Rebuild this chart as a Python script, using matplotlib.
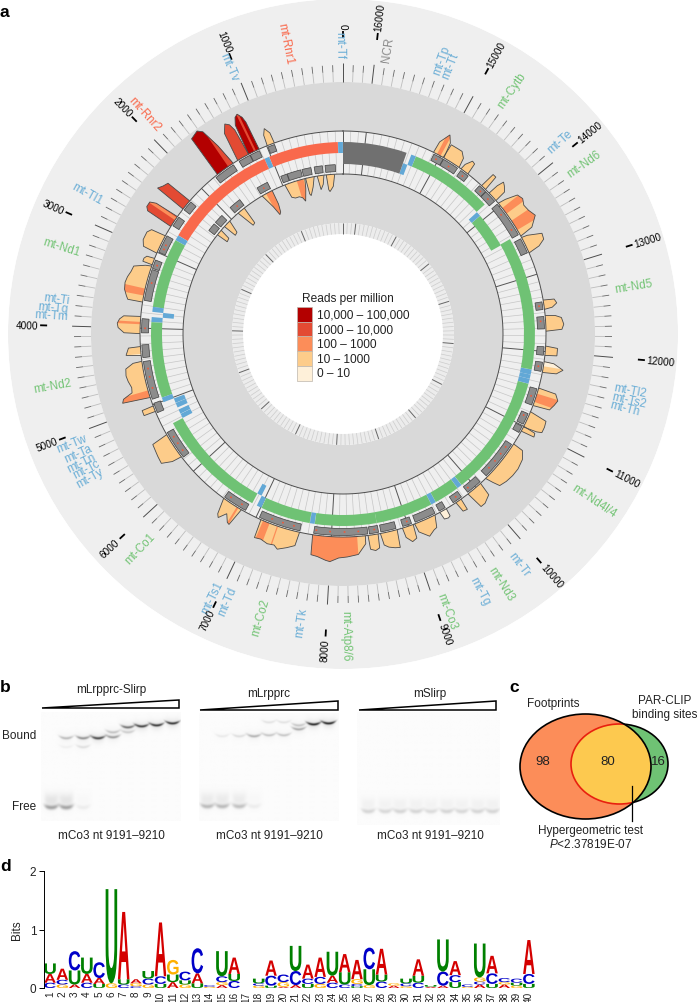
import numpy as np
import matplotlib
matplotlib.use('Agg')
import matplotlib.pyplot as plt
from matplotlib.patches import Ellipse, PathPatch, Polygon, Rectangle
from matplotlib.textpath import TextPath
from matplotlib.font_manager import FontProperties
from matplotlib.transforms import Affine2D

plt.rcParams['font.family'] = ['Liberation Sans', 'DejaVu Sans']
plt.rcParams['mathtext.fontset'] = 'custom'
plt.rcParams['mathtext.rm'] = 'Liberation Sans'
plt.rcParams['mathtext.it'] = 'Liberation Sans:italic'

W, H = 697, 1003
GENOME = 16299

# panel a: genes
gene_names = ['mt-Tf', 'mt-Rnr1', 'mt-Tv', 'mt-Rnr2', 'mt-Tl1', 'mt-Nd1', 'mt-Ti', 'mt-Tq', 'mt-Tm', 'mt-Nd2',
              'mt-Tw', 'mt-Ta', 'mt-Tn', 'mt-Tc', 'mt-Ty', 'mt-Co1', 'mt-Ts1', 'mt-Td', 'mt-Co2', 'mt-Tk',
              'mt-Atp8/6', 'mt-Co3', 'mt-Tg', 'mt-Nd3', 'mt-Tr', 'mt-Nd4l/4', 'mt-Th', 'mt-Ts2', 'mt-Tl2',
              'mt-Nd5', 'mt-Nd6', 'mt-Te', 'mt-Cytb', 'mt-Tt', 'mt-Tp', 'NCR']
gene_start = [1, 70, 1025, 1094, 2676, 2751, 3706, 3772, 3845, 3914, 4951, 5019, 5089, 5192, 5260, 5328, 6870,
              6942, 7013, 7700, 7766, 8607, 9391, 9459, 9808, 9877, 11545, 11613, 11671, 11742, 13552, 14071,
              14145, 15289, 15356, 15423]
gene_end = [68, 1024, 1093, 2675, 2750, 3707, 3774, 3842, 3913, 4951, 5017, 5086, 5159, 5257, 5326, 6872, 6938,
            7009, 7696, 7764, 8607, 9390, 9458, 9806, 9875, 11544, 11612, 11671, 11741, 13565, 14070, 14139,
            15288, 15355, 15422, 16299]
gene_kind = ['t', 'r', 't', 'r', 't', 'p', 't', 't', 't', 'p', 't', 't', 't', 't', 't', 'p', 't', 't', 'p', 't',
             'p', 'p', 't', 'p', 't', 'p', 't', 't', 't', 'p', 'p', 't', 'p', 't', 't', 'n']
gene_strand = ['H', 'H', 'H', 'H', 'H', 'H', 'H', 'L', 'H', 'H', 'H', 'L', 'L', 'L', 'L', 'H', 'L', 'H', 'H', 'H',
               'H', 'H', 'H', 'H', 'H', 'H', 'H', 'H', 'H', 'H', 'L', 'L', 'H', 'H', 'L', 'B']
label_pos = [35, 507, 1050, 1900, 2770, 3296, 3753, 3835, 3908, 4535, 5067, 5170, 5262, 5330, 5415, 6180, 6950,
             7090, 7416, 7775, 8170, 9078, 9420, 9617, 9840, 10700, 11560, 11636, 11723, 12650, 13820, 14110,
             14730, 15317, 15403, 15892]
number_ticks = list(range(0, 17000, 1000))

# footprints on the outer strand: position, coverage, level of the main colour
outer_pos = [[895, 905, 950, 985, 992], [1105, 1115, 1130, 1165, 1200, 1235, 1255], [1255, 1265, 1290, 1330, 1385, 1415],
             [1486, 1522, 1572, 1617, 1712, 1730], [2220, 2230, 2290, 2345, 2355], [2475, 2490, 2520, 2580, 2615, 2627],
             [2765, 2780, 2830, 2900, 2930, 3000, 3012], [3085, 3095, 3130, 3170, 3172],
             [3190, 3205, 3260, 3330, 3400, 3470, 3550, 3620, 3660, 3665], [3850, 3860, 3900, 3950, 4000, 4060, 4070],
             [4235, 4245, 4330, 4350], [4425, 4435, 4490, 4570, 4640, 4720, 4780, 4825, 4865, 4900],
             [5015, 5020, 5085, 5090], [5420, 5440, 5520, 5590, 5680, 5740, 5760], [6520, 6570, 6600, 6660, 6720, 6750, 6790],
             [7070, 7085, 7160, 7250, 7330, 7380, 7480, 7570, 7590], [7760, 7775, 7850, 7950, 8000, 8100, 8200, 8330, 8430, 8435],
             [8470, 8480, 8540, 8590, 8600], [8630, 8650, 8700, 8770, 8830, 8850], [8920, 8930, 8990, 9050, 9065],
             [9085, 9100, 9200, 9280, 9320, 9370], [9440, 9450, 9500, 9530, 9535], [9680, 9695, 9750, 9760],
             [9870, 9900, 9960, 10060, 10080], [10170, 10200, 10230, 10320, 10420, 10520, 10640, 10730, 10740],
             [10930, 10940, 10985, 11000], [10990, 11010, 11030, 11100, 11170, 11205], [11290, 11310, 11380, 11440, 11510, 11525],
             [11730, 11745, 11800, 11860, 11870], [11950, 11960, 12050, 12070], [12260, 12280, 12340, 12420, 12450, 12460],
             [12540, 12555, 12600, 12650, 12660], [13290, 13320, 13370, 13440, 13500, 13510],
             [13530, 13560, 13660, 13750, 13830, 13900, 13970, 14020, 14040], [14085, 14095, 14150, 14190, 14210, 14215],
             [14280, 14295, 14340, 14350], [14580, 14590, 14630, 14680, 14690], [14720, 14740, 14800, 14860, 14950, 14960],
             [14950, 14970, 15020, 15090, 15100]]
outer_cov = [[0, 11, 17, 11, 0], [0, 30, 36, 41, 39, 32, 0], [0, 28, 35, 38, 30, 0],
             [2, 23, 43, 47, 44, 0], [0, 28, 30, 33, 0], [0, 25, 31, 31, 28, 0],
             [0, 15, 18, 18, 18, 15, 0], [0, 8, 10, 10, 0],
             [0, 6, 17, 18, 20, 21, 20, 17, 15, 0], [0, 17, 21, 23, 22, 16, 0],
             [0, 12, 15, 0], [0, 9, 17, 18, 17, 15, 16, 26, 28, 0],
             [0, 12, 12, 0], [0, 17, 18, 19, 20, 10, 0], [0, 16, 19, 11, 18, 19, 0],
             [0, 19, 18, 20, 19, 22, 18, 14, 0], [0, 20, 21, 24, 25, 21, 20, 18, 8, 0],
             [0, 14, 16, 14, 0], [0, 12, 15, 17, 18, 0], [0, 10, 16, 14, 0],
             [0, 9, 17, 13, 12, 0], [0, 8, 9, 8, 0], [0, 11, 12, 0],
             [0, 18, 18, 14, 0], [0, 8, 15, 17, 18, 18, 16, 11, 0],
             [0, 14, 13, 0], [0, 14, 19, 19, 18, 0], [0, 17, 20, 22, 18, 0],
             [0, 14, 20, 10, 0], [0, 12, 12, 0], [0, 16, 18, 16, 10, 0],
             [0, 8, 13, 11, 0], [0, 12, 19, 20, 6, 0],
             [0, 14, 23, 20, 19, 22, 20, 8, 0], [0, 12, 16, 18, 11, 0],
             [0, 16, 16, 0], [0, 12, 13, 6, 0], [0, 10, 15, 15, 15, 0],
             [0, 16, 23, 12, 0]]
outer_level = [3, 0, 1, 0, 1, 1, 3, 3, 3, 3, 3, 3, 3, 3, 3, 3, 2, 3, 3, 3, 3, 4, 3, 3, 3, 3, 3, 3, 3, 3, 3, 3, 3, 3, 3, 3, 3, 3, 3]

# stretches of a footprint that fall in another read class
outer_band_start = [1150, 1486, 2490, 3490, 3920, 4330, 4805, 6720, 7100, 7290, 8330, 11340, 11810, 13620, 13870, 15000]
outer_band_end = [1175, 1560, 2530, 3580, 3950, 4350, 4895, 6745, 7190, 7305, 8435, 11450, 11870, 13760, 13960, 15050]
outer_band_level = [1, 1, 2, 2, 2, 4, 2, 2, 2, 2, 3, 2, 4, 2, 2, 2]

inner_pos = [[135, 170, 235, 255, 272], [310, 340, 390, 420], [470, 520, 585, 605, 612],
             [625, 650, 710, 745, 770, 800, 870, 930, 965], [1190, 1195, 1225, 1260, 1300, 1375],
             [1725, 1740, 1790, 1855], [2040, 2090, 2150, 2165], [2245, 2265, 2330, 2340]]
inner_cov = [[0, 12, 17, 15, 0], [0, 9, 14, 0], [0, 10, 18, 16, 0],
             [0, 10, 22, 18, 17, 16, 16, 14, 0], [0, 15, 23, 25, 15, 0],
             [0, 18, 19, 0], [0, 13, 14, 0], [0, 11, 12, 0]]
inner_level = [3, 3, 3, 3, 2, 3, 3, 3]
inner_band_start = [650, 1300]
inner_band_end = [760, 1375]
inner_band_level = [2, 3]

outer_box_start = [900, 1110, 1245, 1490, 2220, 2470, 2755, 3100, 3230, 3877, 4215, 4430, 4985, 5400, 6520, 7040,
                   7770, 8490, 8640, 8930, 9100, 9440, 9650, 9880, 10200, 10900, 11020, 11290, 11740, 11950, 12290,
                   12540, 13300, 13560, 14090, 14260, 14560, 14730, 14950]
outer_box_end = [990, 1240, 1405, 1770, 2355, 2605, 2990, 3215, 3640, 4060, 4380, 4930, 5115, 5780, 6840, 7590,
                 8470, 8610, 8840, 9050, 9380, 9530, 9780, 10090, 10720, 10990, 11170, 11510, 11860, 12060, 12450,
                 12640, 13500, 14040, 14255, 14370, 14680, 14945, 15085]
inner_box_start = [118, 317, 495, 655, 875, 1200, 1700, 2065, 2240]
inner_box_end = [276, 444, 635, 870, 975, 1380, 1890, 2210, 2370]
outer_dash = [2870, 2930, 3160, 3400, 4000, 4530, 4640, 4790, 5490, 5590, 5700, 6590, 6760, 7200, 7350, 7500, 7800,
              7980, 8170, 8350, 8560, 9000, 9720, 9920, 10300, 10420, 10540, 10650, 11130, 11400, 11800, 12390,
              12590, 13660, 13900, 14170, 14310, 14620, 14840, 15030]
inner_dash = [1290, 1793]

legend_title = 'Reads per million'
legend_labels = ['10,000 – 100,000', '1000 – 10,000', '100 – 1000', '10 – 1000', '0 – 10']
level_colors = ['#b30000', '#e34a33', '#fc8d59', '#fdcc8a', '#fef0d9']
kind_fill = {'t': '#62a8d6', 'r': '#f9694c', 'p': '#6fc274', 'n': '#707070'}
kind_text = {'t': '#6baed6', 'r': '#f9694c', 'p': '#74c476', 'n': '#8a8a8a'}

# panel b: gel lanes and how strong each band looks
gel_titles = ['mLrpprc-Slirp', 'mLrpprc', 'mSlirp']
gel_lane_x = [[51, 66, 83, 98, 113, 128, 142, 157, 173],
              [207, 222, 239, 254, 269, 284, 299, 314, 329],
              [368, 385, 400, 416, 431, 447, 462, 478, 493]]
gel_free = [[0.3, 0.3, 0.05, 0, 0, 0, 0, 0, 0],
            [0.22, 0.22, 0.2, 0.05, 0, 0, 0, 0, 0],
            [0.13, 0.12, 0.13, 0.13, 0.11, 0.13, 0.12, 0.13, 0.13]]
gel_free_y = [809, 808, 813]
gel_band_lane = [[1, 2, 3, 4, 4, 5, 5, 6, 7, 8, 2, 1],
                 [1, 2, 3, 4, 4, 5, 5, 6, 6, 7, 8],
                 []]
gel_band_y = [[739, 739, 739, 738, 733, 733, 728, 727, 726, 724, 748, 748],
              [737, 737, 737, 736, 723, 736, 723, 730, 726, 725, 724],
              []]
gel_band_value = [[0.22, 0.36, 0.62, 0.32, 0.18, 0.14, 0.45, 0.62, 0.65, 0.65, 0.1, 0.04],
                  [0.06, 0.1, 0.25, 0.18, 0.08, 0.18, 0.08, 0.26, 0.16, 0.7, 0.7],
                  []]

# panel c
venn_numbers = ['98', '80', '16']

# panel d: letters from the bottom of each stack with their height in bits
logo_letters = ['CAU', 'GCA', 'AUC', 'CAU', 'UAC', 'GU', 'CUA', 'CGA', 'GCU', 'UCA', 'AUG', 'GUC', 'UAC', 'GC',
                'AGCU', 'CUA', '', 'GCU', 'UCA', 'AGC', 'ACU', 'UCA', 'GCA', 'CAU', 'CUA', 'UCGA', 'GUC', 'CUA',
                'AG', 'GCU', 'CUA', 'AU', 'ACU', 'UCA', 'GC', 'ACGU', 'UCA', 'AGC', 'GUC', 'UCA']
logo_heights = [[.09, .15, .18], [.06, .08, .19], [.06, .24, .33], [.09, .15, .28], [.07, .1, .27], [.08, 1.61],
                [.06, .09, 1.15], [.03, .05, .07], [.06, .1, .13], [.07, .13, .92], [.1, .13, .25], [.06, .07, .15],
                [.08, .17, .43], [.02, .03], [.05, .05, .1, .43], [.12, .12, .28], [], [.04, .04, .08],
                [.04, .17, .26], [.02, .08, .13], [.05, .24, .43], [.07, .09, .24], [.07, .12, .33], [.09, .12, .41],
                [.06, .21, .31], [.03, .04, .08, .33], [.05, .27, .37], [.11, .12, .44], [.04, .04], [.03, .05, .08],
                [.09, .12, .28], [.02, .03], [.04, .24, .55], [.1, .12, .24], [.02, .04], [.06, .05, .07, .58],
                [.07, .18, .3], [.06, .04, .07], [.04, .05, .07], [.07, .17, .58]]
logo_colors = {'A': '#d40000', 'C': '#0000c8', 'G': '#ffb000', 'U': '#008000'}


def th(pos):
    return np.asarray(pos, dtype=float) / GENOME * 2 * np.pi


def draw_peak(ax, pos, cov, level, bands, base, sign):
    pos = np.array(pos, dtype=float)
    cov = np.array(cov, dtype=float)
    x = np.r_[pos[0], pos, pos[-1]]
    r = np.r_[base - 3 * sign, base + sign * cov, base - 3 * sign]
    ax.fill(th(x), r, facecolor=level_colors[level], edgecolor='none', lw=0, zorder=2)
    for b0, b1, lev in zip(*bands):
        if b0 >= pos[0] and b1 <= pos[-1]:
            inside = pos[(pos > b0) & (pos < b1)]
            bx = np.r_[b0, inside, b1]
            # band follows the outline of the peak it sits in
            bh = np.interp(bx, pos, cov)
            ax.fill(th(np.r_[b0, bx, b1]), np.r_[base, base + sign * bh, base],
                    facecolor=level_colors[lev], edgecolor='none', lw=0, zorder=2.1)
    ax.fill(th(x), r, facecolor='none', edgecolor='#4a4a4a', lw=0.6, zorder=2.2)


def radial_text(ax, pos, r, s, **kw):
    deg = pos / GENOME * 360
    if deg > 180:
        rot, ha = deg - 270, 'left'
    else:
        rot, ha = deg - 90, 'right'
    ax.text(th(pos), r, s, rotation=rot, ha=ha, va='center', rotation_mode='anchor', **kw)


fig = plt.figure(figsize=(W / 100, H / 100), dpi=100)

# panel a is a polar axes centred on the circle
ax = fig.add_axes([(343 - 335) / W, 1 - 670 / H, 670 / W, 670 / H], projection='polar')
ax.set_theta_zero_location('N')
ax.set_theta_direction(1)
ax.patch.set_alpha(0)
ax.grid(False)
ax.set_xticks([])
ax.set_yticks([])
ax.spines['polar'].set_visible(False)

full = 2 * np.pi
ax.bar(np.pi, 83, width=full, bottom=252, color='#efefef', lw=0, zorder=1)
ax.bar(np.pi, 141, width=full, bottom=111, color='#d9d9d9', lw=0, zorder=1)
ax.bar(np.pi, 11, width=full, bottom=100, color='#ececec', lw=0, zorder=1)

for p, c, lev in zip(outer_pos, outer_cov, outer_level):
    draw_peak(ax, p, c, lev, (outer_band_start, outer_band_end, outer_band_level), 203, 1)
for p, c, lev in zip(inner_pos, inner_cov, inner_level):
    draw_peak(ax, p, c, lev, (inner_band_start, inner_band_end, inner_band_level), 160, -1)

ax.bar(np.pi, 43, width=full, bottom=160, color='#efefef', lw=0, zorder=3)

minor = np.arange(0, GENOME, 100)
major = np.arange(0, GENOME, 1000)
minor = minor[minor % 1000 != 0]
ax.vlines(th(minor), 160, 203, color='#c6c6c6', lw=0.5, zorder=3.1)
ax.vlines(th(major), 160, 203, color='#555555', lw=0.7, zorder=3.1)
ax.vlines(th(minor), 100, 111, color='#cccccc', lw=0.5, zorder=3.1)
ax.vlines(th(major), 100, 111, color='#666666', lw=0.7, zorder=3.1)
ax.vlines(th(minor), 252, 262, color='#bdbdbd', lw=0.6, zorder=3.1)
ax.vlines(th(minor), 262, 269, color='#666666', lw=0.6, zorder=3.1)
ax.vlines(th(major), 252, 271, color='#4d4d4d', lw=0.7, zorder=3.1)
ax.vlines(th(major), 296, 303, color='black', lw=1.3, zorder=3.1)

lanes = {'H': (181, 11), 'L': (170, 11), 'B': (170, 22)}
for g0, g1, kind, strand in zip(gene_start, gene_end, gene_kind, gene_strand):
    r0, dr = lanes[strand]
    ax.bar(th((g0 + g1) / 2), dr, width=th(g1 - g0), bottom=r0, color=kind_fill[kind], lw=0, zorder=4)

for b0, b1 in zip(outer_box_start, outer_box_end):
    ax.bar(th((b0 + b1) / 2), 7, width=th(b1 - b0), bottom=194.5, color='#8c8c8c', edgecolor='#3f3f3f', lw=0.5, zorder=5)
for b0, b1 in zip(inner_box_start, inner_box_end):
    ax.bar(th((b0 + b1) / 2), 7, width=th(b1 - b0), bottom=162.5, color='#8c8c8c', edgecolor='#3f3f3f', lw=0.5, zorder=5)
ax.bar(th(outer_dash), 1.6, width=th(22), bottom=197.2, color='#f0593a', lw=0, zorder=6)
ax.bar(th(inner_dash), 1.6, width=th(22), bottom=165.2, color='#f0593a', lw=0, zorder=6)

circle = np.linspace(0, full, 721)
ax.plot(circle, np.full_like(circle, 160), color='#4d4d4d', lw=0.7, zorder=6)
ax.plot(circle, np.full_like(circle, 203), color='#4d4d4d', lw=0.7, zorder=6)

for p, name, kind in zip(label_pos, gene_names, gene_kind):
    radial_text(ax, p, 276, name, fontsize=8.4, color=kind_text[kind], zorder=7)
for p in number_ticks:
    radial_text(ax, p, 305, str(p), fontsize=7.2, color='black', zorder=7)
ax.set_rlim(0, 335)
ax.set_thetalim(0, full)

# everything else is laid out in picture pixels
pix = fig.add_axes([0, 0, 1, 1], zorder=5)
pix.patch.set_alpha(0)
pix.axis('off')

for s, x, y in [('a', 0, 12), ('b', 0, 687), ('c', 509, 688), ('d', 0, 867)]:
    pix.text(x, y, s, fontsize=12.5, fontweight='bold', va='center', ha='left')

# legend
pix.text(348, 299, legend_title, fontsize=8.6, ha='center', va='center', color='#222222')
for i, (lab, col) in enumerate(zip(legend_labels, level_colors)):
    pix.add_patch(Rectangle((297, 308 + i * 14.7), 15, 14.7, facecolor=col, edgecolor='#bdb5ac', lw=0.5))
    pix.text(317, 315.5 + i * 14.7, lab, fontsize=8.6, va='center', ha='left', color='#222222')

# gels
gel_x0 = [41, 199, 357]
gel_x1 = [181, 339, 500]
gel_y0 = [713, 714, 713]
gel_y1 = [822, 822, 826]
tri_x0 = [42, 200, 359]
tri_x1 = [179, 338, 496]
tri_bottom = [709, 711, 711]
tri_top = [701, 702, 702]
title_x = [111, 269, 430]
title_y = [690, 694, 694]
for k in range(3):
    x0, x1, y0, y1 = gel_x0[k], gel_x1[k], gel_y0[k], gel_y1[k]
    yy, gx = np.mgrid[y0:y1 + 1, x0:x1 + 1]
    img = np.full(yy.shape, 0.985)
    for i, lane in enumerate(gel_lane_x[k]):
        d = (gx - lane) / 7.0
        profile = np.exp(-d ** 4)
        fy = gel_free_y[k] - 2 * d ** 2
        img -= gel_free[k][i] * profile * np.exp(-((yy - fy) / 2.2) ** 2)
        img -= 0.3 * gel_free[k][i] * profile * np.exp(-((yy - fy + 7) / 7.0) ** 2)
    for i, by, val in zip(gel_band_lane[k], gel_band_y[k], gel_band_value[k]):
        d = (gx - gel_lane_x[k][i]) / 7.0
        profile = np.exp(-d ** 4)
        ly = by - 2 * d ** 2
        img -= val * profile * np.exp(-((yy - ly) / 1.3) ** 2)
        img -= 0.12 * val * profile * np.exp(-((yy - ly) / 5.0) ** 2)
    pix.imshow(img, cmap='gray', vmin=0, vmax=1, extent=(x0, x1, y1, y0), aspect='auto', interpolation='bilinear', zorder=1)
    pix.add_patch(Polygon([(tri_x0[k], tri_bottom[k]), (tri_x1[k], tri_top[k]), (tri_x1[k], tri_bottom[k])], closed=True,
                          facecolor='white', edgecolor='black', lw=1.1, zorder=3))
    pix.text(title_x[k], title_y[k], gel_titles[k], fontsize=8.5, ha='center', va='center', color='#222222')
    pix.text(title_x[k], 836, 'mCo3 nt 9191–9210', fontsize=8.5, ha='center', va='center', color='#222222')
pix.text(36, 736, 'Bound', fontsize=8.5, ha='right', va='center', color='#222222')
pix.text(36, 807, 'Free', fontsize=8.5, ha='right', va='center', color='#222222')

# venn
big_xy, big_w, big_h = (585.5, 767.5), 131, 105
small_xy, small_w, small_h = (619.5, 765), 97, 80
pix.add_patch(Ellipse(small_xy, small_w, small_h, facecolor='#6fc274', edgecolor='black', lw=1.2, zorder=2))
pix.add_patch(Ellipse(big_xy, big_w, big_h, facecolor='#fc8d59', edgecolor='none', zorder=2))
yellow = Ellipse(small_xy, small_w, small_h, facecolor='#fdc94f', edgecolor='#e8200f', lw=1.2, zorder=3)
pix.add_patch(yellow)
yellow.set_clip_path(Ellipse(big_xy, big_w, big_h, transform=pix.transData))
pix.add_patch(Ellipse(big_xy, big_w, big_h, facecolor='none', edgecolor='black', lw=1.2, zorder=4))
for s, x in zip(venn_numbers, [543, 608, 658]):
    pix.text(x, 762, s, fontsize=9.5, ha='center', va='center', zorder=6, color='#222222')
pix.plot([632, 632], [787, 822], color='black', lw=0.9, zorder=5)
pix.text(553, 704, 'Footprints', fontsize=8.5, ha='center', va='center', color='#222222')
pix.text(665, 701, 'PAR-CLIP', fontsize=8.5, ha='center', va='center', color='#222222')
pix.text(665, 715, 'binding sites', fontsize=8.5, ha='center', va='center', color='#222222')
pix.text(591, 831, 'Hypergeometric test', fontsize=8.5, ha='center', va='center', color='#222222')
pix.text(591, 845, r'$\mathit{P}$<2.37819E-07', fontsize=8.5, ha='center', va='center', color='#222222')

pix.set_xlim(0, W)
pix.set_ylim(H, 0)

# sequence logo
logo = fig.add_axes([44 / W, 1 - 989 / H, 491 / W, 117 / H], zorder=6)
logo.patch.set_alpha(0)
logo.set_xlim(0.51, 40.5)
logo.set_ylim(0, 2)
for sp in ['top', 'right', 'bottom']:
    logo.spines[sp].set_visible(False)
logo.spines['left'].set_linewidth(0.7)
logo.set_yticks([0, 1, 2])
logo.set_xticks(range(1, 41))
logo.set_xticklabels([str(i) for i in range(1, 41)], rotation=90, fontsize=7.2, color='#222222')
logo.tick_params(axis='x', length=0, pad=2)
logo.tick_params(axis='y', length=3.5, width=0.7, labelsize=8.5, pad=2, labelcolor='#222222')
logo.set_ylabel('Bits', fontsize=8.5, color='#222222', labelpad=5)

fp = FontProperties(family='Liberation Sans', weight='bold')
for i, (letters, heights) in enumerate(zip(logo_letters, logo_heights), start=1):
    bottom = 0
    for ch, h in zip(letters, heights):
        tp = TextPath((0, 0), ch, size=1, prop=fp)
        box = tp.get_extents()
        tr = Affine2D().translate(-box.x0, -box.y0).scale(0.94 / box.width, h / box.height).translate(i - 0.47, bottom)
        logo.add_patch(PathPatch(tp, facecolor=logo_colors[ch], edgecolor='none', transform=tr + logo.transData))
        bottom += h

fig.savefig('out.png', dpi=100)
